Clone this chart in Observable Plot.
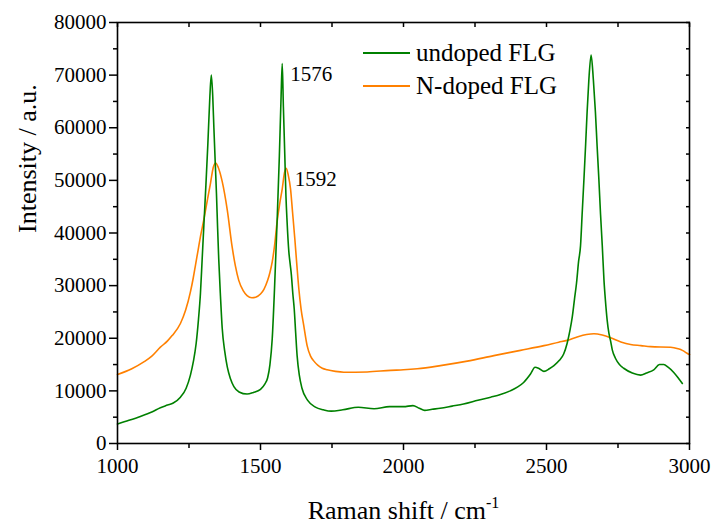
<!DOCTYPE html>
<html>
<head>
<meta charset="utf-8">
<script src="https://cdn.jsdelivr.net/npm/d3@7"></script>
<script src="https://cdn.jsdelivr.net/npm/@observablehq/plot@0.6"></script>
<style>
  html, body { margin: 0; padding: 0; background: white; }
  #wrap { position: relative; width: 713px; height: 524px; }
  #legend { position: absolute; left: 363px; top: 36px; font-family: "Liberation Serif", "Times New Roman", serif; font-size: 25px; color: #000; }
  .row { display: flex; align-items: center; height: 33px; }
  .sw { width: 47px; height: 0; border-top: 2px solid; margin-right: 6px; }
</style>
</head>
<body>
<div id="wrap"></div>
<script>
// ---- data ----
const undopedX = [1000,1040,1080,1120,1150,1175,1195,1220,1240,1255,1265,1275,1283,1290,1296,1302,1309,1316,1323,1328,1333,1337,1342,1346,1350,1354,1360,1366,1375,1384,1395,1407,1425,1453,1475,1500,1515,1525,1533,1541,1549,1558,1566,1572,1576,1580,1585,1589,1593,1599,1604,1608,1613,1618,1623,1628,1636,1645,1665,1692,1720,1747,1788,1842,1897,1951,2000,2033,2055,2074,2100,2128,2170,2210,2260,2305,2339,2373,2398,2420,2444,2460,2475,2491,2510,2526,2545,2560,2572,2582,2590,2598,2605,2612,2619,2625,2631,2637,2642,2648,2656,2664,2671,2677,2683,2689,2695,2701,2706,2712,2718,2724,2730,2741,2755,2770,2800,2829,2850,2875,2895,2910,2925,2945,2960,2975];
const undopedY = [3700,4400,5150,6000,6800,7300,7700,8800,10500,13000,15500,19000,23500,28500,35000,41500,49000,57000,66000,70000,66000,60000,53000,47500,41000,35000,28000,22000,17500,14500,12300,10800,9800,9400,9700,10300,11300,12500,15000,19900,29400,42100,54700,66000,72200,64000,54700,47000,42100,36500,34000,32000,28500,25500,21000,16700,12900,10500,8200,6900,6400,6150,6400,6900,6600,7000,7000,7200,6700,6300,6500,6700,7100,7500,8200,8800,9300,10000,10700,11600,13200,14500,14200,13700,14200,14800,15800,17000,19000,21500,24000,27500,30500,34500,37600,44000,50300,57000,63000,69000,73800,69000,63000,56500,50300,43500,37600,31000,27200,23500,21000,19500,17800,16200,15000,14300,13400,13000,13400,14000,15000,15000,14500,13500,12500,11400];

const dopedX = [1000,1050,1092,1120,1150,1175,1191,1220,1238,1255,1265,1273,1282,1290,1302,1315,1325,1335,1343,1352,1366,1384,1401,1412,1424,1440,1453,1470,1483,1500,1512,1525,1533,1541,1550,1558,1567,1576,1584,1590,1597,1605,1612,1620,1627,1634,1642,1651,1663,1675,1686,1700,1716,1733,1762,1791,1873,1955,2000,2048,2129,2223,2316,2409,2491,2543,2572,2610,2640,2666,2695,2724,2760,2794,2830,2864,2934,2960,2975,2990,3000];
const dopedY = [13100,14200,15500,16600,18300,19500,20500,22800,25300,28800,31500,34000,36800,39300,42600,46500,49400,52500,53300,52500,49800,44300,37300,33800,31000,29000,28100,27700,27800,28400,29300,31000,32500,34500,38000,42100,45500,48400,51500,52300,51000,48400,44000,38900,34000,29400,25500,22500,18600,16600,15700,14900,14300,14000,13700,13550,13600,13900,14000,14200,14800,15650,16700,17700,18600,19250,19600,20300,20700,20850,20600,20100,19300,18800,18600,18400,18300,18000,17700,17200,16900];

const seriesNames = ["undoped FLG", "N-doped FLG"];
const seriesColors = ["#008000", "#FF8000"];

const peakLabels = ["1576", "1592"];
const peakX = [1576, 1592];
const peakY = [72200, 52300];

const xMajor = [1000, 1500, 2000, 2500, 3000];
const xMinor = [1250, 1750, 2250, 2750];
const yMajor = [0, 10000, 20000, 30000, 40000, 50000, 60000, 70000, 80000];
const yMinor = [5000, 15000, 25000, 35000, 45000, 55000, 65000, 75000];

const xTitle = "Raman shift / cm";
const xTitleSup = "-1";
const yTitle = "Intensity / a.u.";

// ---- build tables ----
const undoped = undopedX.map((x, i) => ({x, y: undopedY[i]}));
const doped = dopedX.map((x, i) => ({x, y: dopedY[i]}));
const peaks = peakLabels.map((t, i) => ({x: peakX[i], y: peakY[i], t}));

const font = "'Liberation Serif', 'Times New Roman', serif";
const fmt = d => String(d);

const chart = Plot.plot({
  width: 713,
  height: 524,
  marginLeft: 117,
  marginRight: 24,
  marginTop: 22,
  marginBottom: 81,
  style: {fontFamily: font, fontSize: "21px", background: "white", color: "black"},
  x: {domain: [1000, 3000]},
  y: {domain: [0, 80000]},
  marks: [
    Plot.line(doped, {x: "x", y: "y", stroke: seriesColors[1], strokeWidth: 1.6, curve: "monotone-x"}),
    Plot.line(undoped, {x: "x", y: "y", stroke: seriesColors[0], strokeWidth: 1.6, curve: "monotone-x"}),
    Plot.frame({stroke: "black", strokeWidth: 1.6}),
    Plot.axisX({ticks: xMajor, tickSize: 7, tickPadding: 8, tickFormat: fmt, fontSize: 21, strokeWidth: 1.5, label: null}),
    Plot.axisX({ticks: xMinor, tickSize: 5, text: null, strokeWidth: 1.5, label: null}),
    Plot.axisX({anchor: "top", ticks: xMajor.concat(xMinor), tickSize: -4, text: null, strokeWidth: 1.5, label: null}),
    Plot.axisY({ticks: yMajor, tickSize: 8, tickPadding: 3, tickFormat: fmt, fontSize: 21, strokeWidth: 1.5, label: null}),
    Plot.axisY({ticks: yMinor, tickSize: 4, text: null, strokeWidth: 1.5, label: null}),
    Plot.axisY({anchor: "right", ticks: yMajor.concat(yMinor), tickSize: -4, text: null, strokeWidth: 1.5, label: null}),
    Plot.text(peaks, {x: "x", y: "y", text: "t", dx: 8, dy: 11, textAnchor: "start", fontSize: 21, fill: "black"}),
    Plot.text([xTitle], {frameAnchor: "bottom", dy: 75, fontSize: 26, fill: "black"}),
    Plot.text([yTitle], {frameAnchor: "left", dx: -90, rotate: -90, fontSize: 26, fill: "black"})
  ]
});

d3.select(chart).selectAll("text")
  .filter(function() { return this.textContent === xTitle; })
  .append("tspan").attr("dy", "-11").attr("font-size", "16").text(xTitleSup);

const wrap = document.getElementById("wrap");
wrap.appendChild(chart);

const legend = document.createElement("div");
legend.id = "legend";
seriesNames.forEach((name, i) => {
  const row = document.createElement("div");
  row.className = "row";
  const sw = document.createElement("div");
  sw.className = "sw";
  sw.style.borderColor = seriesColors[i];
  const label = document.createElement("span");
  label.textContent = name;
  row.appendChild(sw);
  row.appendChild(label);
  legend.appendChild(row);
});
wrap.appendChild(legend);
</script>
</body>
</html>
